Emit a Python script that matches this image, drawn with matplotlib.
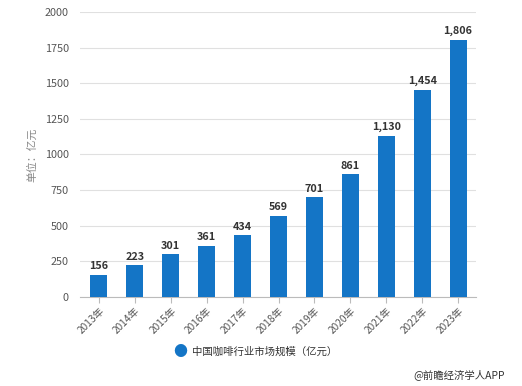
import matplotlib
matplotlib.use("Agg")
import matplotlib.pyplot as plt
import numpy as np

plt.rcParams['font.family'] = ['Noto Sans CJK SC', 'DejaVu Sans']

years = ["2013年", "2014年", "2015年", "2016年", "2017年", "2018年",
         "2019年", "2020年", "2021年", "2022年", "2023年"]
values = [156, 223, 301, 361, 434, 569, 701, 861, 1130, 1454, 1806]
y_ticks = [0, 250, 500, 750, 1000, 1250, 1500, 1750, 2000]
series_name = "中国咖啡行业市场规模（亿元）"
unit_label = "单位：亿元"
source = "@前瞻经济学人APP"

bar_color = "#1475c6"
text_gray = "#555555"

fig = plt.figure(figsize=(5.22, 3.86), dpi=100)
ax = fig.add_axes([0.153, 0.2306, 0.759, 0.7384])

x = np.arange(len(years))
bars = ax.bar(x, values, width=0.47, color=bar_color, zorder=3)
for xi, v in zip(x, values):
    ax.text(xi, v + 25, f"{v:,}", ha="center", va="bottom",
            fontsize=7.8, fontweight="bold", color="#333333")

ax.set_xlim(-0.53, 10.5)
ax.set_ylim(0, 2000)
ax.set_yticks(y_ticks)
ax.set_yticklabels([str(t) for t in y_ticks], fontsize=7.8, color=text_gray)
ax.set_xticks(x)
ax.set_xticklabels(years, rotation=45, ha="right", rotation_mode="anchor",
                   fontsize=7.3, color=text_gray)
ax.tick_params(axis="y", length=0, pad=8)
ax.tick_params(axis="x", length=4, color="#bbbbbb", pad=2)
ax.grid(axis="y", color="#e0e0e0", linewidth=0.8, zorder=0)
for s in ["top", "right", "left"]:
    ax.spines[s].set_visible(False)
ax.spines["bottom"].set_color("#bbbbbb")

ax.set_ylabel(unit_label, fontsize=7.8, color="#888888", labelpad=5)

# legend and source
fig.text(0.345, 0.088, "●", fontsize=10, color=bar_color, ha="center", va="center")
fig.text(0.368, 0.088, series_name, fontsize=7.5, color="#333333", ha="left", va="center")
fig.text(0.967, 0.03, source, fontsize=7.5, color="#333333", ha="right", va="center")

fig.savefig("out.png", dpi=100)
